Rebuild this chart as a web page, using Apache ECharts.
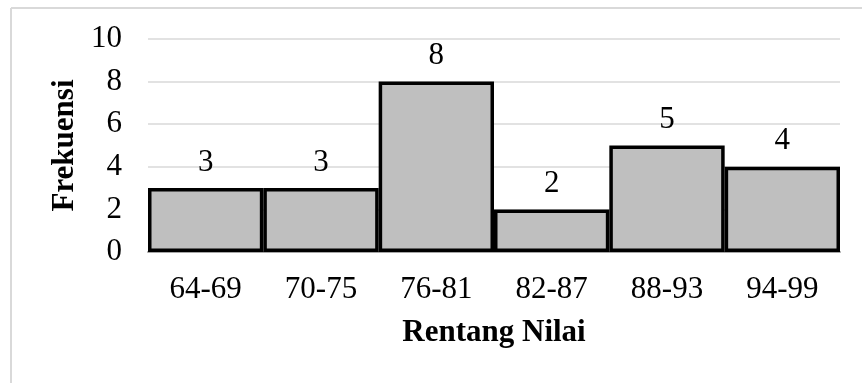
<!DOCTYPE html>
<html><head><meta charset="utf-8">
<script src="https://cdn.jsdelivr.net/npm/echarts@6/dist/echarts.min.js"></script>
<style>html,body{margin:0;padding:0;background:#fff}#c{width:862px;height:383px}</style>
</head><body><div id="c"></div>
<script>
const categories = ['64-69','70-75','76-81','82-87','88-93','94-99'];
const frequencies = [3,3,8,2,5,4];
const yTicks = [0,2,4,6,8,10];
const chart = echarts.init(document.getElementById('c'));
const font = '"Liberation Serif","Times New Roman",serif';
chart.setOption({
  animation:false,
  graphic:[
    {type:'line',shape:{x1:11,y1:8,x2:862,y2:8},style:{stroke:'#d9d9d9',lineWidth:2},silent:true},
    {type:'line',shape:{x1:11,y1:8,x2:11,y2:383},style:{stroke:'#d9d9d9',lineWidth:2},silent:true}
  ],
  grid:{left:148,right:22,top:39,bottom:131},
  xAxis:{type:'category',data:categories,
    axisTick:{show:false},
    axisLine:{lineStyle:{color:'#a6a6a6',width:2}},
    axisLabel:{fontFamily:font,fontSize:31,color:'#000',margin:22},
    name:'Rentang Nilai',nameLocation:'middle',nameGap:65,
    nameTextStyle:{fontFamily:font,fontSize:31,fontWeight:'bold',color:'#000'}},
  yAxis:{type:'value',min:yTicks[0],max:yTicks[yTicks.length-1],interval:2,
    axisLine:{show:false},axisTick:{show:false},
    splitLine:{lineStyle:{color:'#d9d9d9',width:1.5}},
    axisLabel:{fontFamily:font,fontSize:31,color:'#000',margin:26},
    name:'Frekuensi',nameLocation:'middle',nameGap:67,nameRotate:90,
    nameTextStyle:{fontFamily:font,fontSize:31,fontWeight:'bold',color:'#000'}},
  series:[{type:'bar',data:frequencies,barCategoryGap:'0%',
    itemStyle:{color:'#bfbfbf',borderColor:'#000',borderWidth:3.5},
    label:{show:true,position:'top',distance:10,fontFamily:font,fontSize:31,color:'#000'}}]
});
</script></body></html>
